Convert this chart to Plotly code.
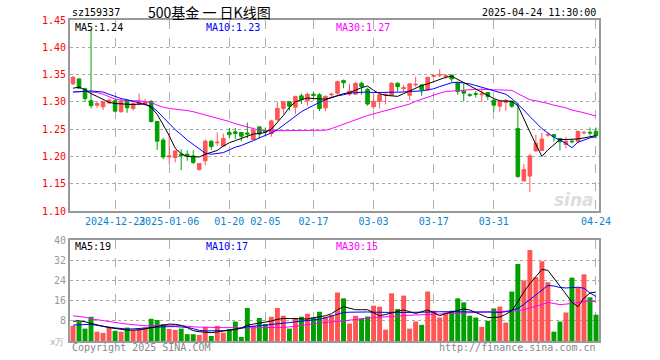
import plotly.graph_objects as go
from plotly.subplots import make_subplots

dates = [
    "2024-12-12", "2024-12-13", "2024-12-16", "2024-12-17", "2024-12-18", "2024-12-19", "2024-12-20",
    "2024-12-23", "2024-12-24", "2024-12-25", "2024-12-26", "2024-12-27", "2024-12-30", "2024-12-31",
    "2025-01-02", "2025-01-03", "2025-01-06", "2025-01-07", "2025-01-08", "2025-01-09", "2025-01-10",
    "2025-01-13", "2025-01-14", "2025-01-15", "2025-01-16", "2025-01-17", "2025-01-20", "2025-01-21",
    "2025-01-22", "2025-01-23", "2025-01-24", "2025-01-27",
    "2025-02-05", "2025-02-06", "2025-02-07", "2025-02-10", "2025-02-11", "2025-02-12", "2025-02-13",
    "2025-02-14", "2025-02-17", "2025-02-18", "2025-02-19", "2025-02-20", "2025-02-21", "2025-02-24",
    "2025-02-25", "2025-02-26", "2025-02-27", "2025-02-28",
    "2025-03-03", "2025-03-04", "2025-03-05", "2025-03-06", "2025-03-07", "2025-03-10", "2025-03-11",
    "2025-03-12", "2025-03-13", "2025-03-14", "2025-03-17", "2025-03-18", "2025-03-19", "2025-03-20",
    "2025-03-21", "2025-03-24", "2025-03-25", "2025-03-26", "2025-03-27", "2025-03-28", "2025-03-31",
    "2025-04-01", "2025-04-02", "2025-04-03", "2025-04-07", "2025-04-08", "2025-04-09", "2025-04-10",
    "2025-04-11", "2025-04-14", "2025-04-15", "2025-04-16", "2025-04-17", "2025-04-18", "2025-04-21",
    "2025-04-22", "2025-04-23", "2025-04-24",
]

open_ = [1.333, 1.342, 1.324, 1.302, 1.294, 1.291, 1.298, 1.302, 1.282, 1.301,
         1.288, 1.295, 1.296, 1.301, 1.264, 1.230, 1.199, 1.198, 1.204, 1.204,
         1.201, 1.176, 1.192, 1.228, 1.225, 1.219, 1.244, 1.245, 1.244, 1.243,
         1.231, 1.254, 1.247, 1.242, 1.267, 1.288, 1.300, 1.290, 1.311, 1.302,
         1.314, 1.313, 1.289, 1.313, 1.316, 1.339, 1.314, 1.314, 1.334, 1.323,
         1.291, 1.301, 1.312, 1.312, 1.334, 1.324, 1.312, 1.331, 1.331, 1.322,
         1.347, 1.349, 1.347, 1.349, 1.335, 1.320, 1.313, 1.315, 1.313, 1.317,
         1.303, 1.292, 1.299, 1.301, 1.251, 1.155, 1.164, 1.210, 1.211, 1.239,
         1.240, 1.233, 1.222, 1.228, 1.227, 1.243, 1.244, 1.246]
high = [1.347, 1.343, 1.326, 1.434, 1.301, 1.302, 1.306, 1.304, 1.305, 1.302,
        1.299, 1.315, 1.306, 1.303, 1.265, 1.234, 1.243, 1.212, 1.213, 1.211,
        1.211, 1.188, 1.231, 1.229, 1.244, 1.242, 1.252, 1.252, 1.245, 1.262,
        1.253, 1.256, 1.253, 1.267, 1.300, 1.302, 1.301, 1.311, 1.315, 1.317,
        1.319, 1.316, 1.312, 1.317, 1.339, 1.341, 1.333, 1.336, 1.337, 1.326,
        1.314, 1.314, 1.315, 1.336, 1.336, 1.331, 1.334, 1.346, 1.332, 1.346,
        1.351, 1.360, 1.351, 1.350, 1.336, 1.333, 1.316, 1.320, 1.325, 1.318,
        1.304, 1.304, 1.305, 1.302, 1.299, 1.186, 1.205, 1.240, 1.244, 1.244,
        1.241, 1.234, 1.236, 1.232, 1.247, 1.247, 1.253, 1.253]
low = [1.331, 1.324, 1.300, 1.288, 1.289, 1.285, 1.296, 1.281, 1.280, 1.280,
       1.284, 1.294, 1.293, 1.262, 1.212, 1.195, 1.186, 1.189, 1.175, 1.192,
       1.186, 1.174, 1.184, 1.212, 1.219, 1.218, 1.233, 1.232, 1.228, 1.233,
       1.230, 1.233, 1.238, 1.236, 1.266, 1.278, 1.284, 1.278, 1.296, 1.293,
       1.306, 1.283, 1.283, 1.309, 1.313, 1.325, 1.311, 1.313, 1.313, 1.293,
       1.287, 1.288, 1.295, 1.311, 1.319, 1.318, 1.303, 1.328, 1.311, 1.320,
       1.345, 1.345, 1.342, 1.336, 1.313, 1.301, 1.309, 1.308, 1.300, 1.303,
       1.282, 1.282, 1.283, 1.289, 1.161, 1.155, 1.135, 1.209, 1.210, 1.236,
       1.227, 1.211, 1.215, 1.224, 1.226, 1.240, 1.238, 1.233]
close = [1.345, 1.325, 1.306, 1.293, 1.297, 1.300, 1.303, 1.283, 1.301, 1.289,
         1.297, 1.301, 1.300, 1.264, 1.228, 1.199, 1.201, 1.210, 1.201, 1.201,
         1.189, 1.187, 1.228, 1.218, 1.226, 1.233, 1.240, 1.242, 1.237, 1.241,
         1.248, 1.241, 1.245, 1.265, 1.288, 1.300, 1.292, 1.310, 1.304, 1.314,
         1.312, 1.288, 1.310, 1.314, 1.337, 1.335, 1.320, 1.334, 1.328, 1.296,
         1.301, 1.313, 1.314, 1.334, 1.328, 1.326, 1.333, 1.332, 1.322, 1.345,
         1.348, 1.350, 1.348, 1.342, 1.319, 1.316, 1.312, 1.314, 1.315, 1.310,
         1.294, 1.301, 1.303, 1.292, 1.163, 1.176, 1.201, 1.224, 1.232, 1.240,
         1.236, 1.227, 1.228, 1.227, 1.246, 1.244, 1.243, 1.238]

ma5 = [1.325, 1.327, 1.322, 1.315, 1.310, 1.304, 1.299, 1.297, 1.296, 1.295,
       1.295, 1.296, 1.296, 1.290, 1.277, 1.258, 1.238, 1.215, 1.205, 1.200,
       1.199, 1.199, 1.204, 1.207, 1.211, 1.219, 1.225, 1.229, 1.233, 1.238,
       1.241, 1.242, 1.244, 1.250, 1.262, 1.275, 1.290, 1.300, 1.304, 1.307,
       1.306, 1.305, 1.305, 1.308, 1.312, 1.315, 1.317, 1.322, 1.326, 1.329,
       1.321, 1.315, 1.312, 1.311, 1.310, 1.315, 1.320, 1.326, 1.330, 1.333,
       1.337, 1.341, 1.345, 1.347, 1.341, 1.335, 1.329, 1.323, 1.317, 1.312,
       1.306, 1.302, 1.301, 1.301, 1.293, 1.268, 1.245, 1.222, 1.200, 1.212,
       1.222, 1.231, 1.231, 1.231, 1.232, 1.234, 1.236, 1.238]
ma10 = [1.318, 1.319, 1.320, 1.320, 1.319, 1.318, 1.314, 1.310, 1.306, 1.304,
        1.301, 1.299, 1.296, 1.292, 1.283, 1.272, 1.261, 1.249, 1.240, 1.230,
        1.222, 1.214, 1.206, 1.204, 1.205, 1.207, 1.212, 1.217, 1.220, 1.224,
        1.229, 1.234, 1.238, 1.243, 1.249, 1.257, 1.266, 1.274, 1.282, 1.288,
        1.294, 1.299, 1.304, 1.308, 1.311, 1.313, 1.316, 1.317, 1.318, 1.318,
        1.317, 1.317, 1.317, 1.317, 1.317, 1.318, 1.319, 1.319, 1.320, 1.322,
        1.324, 1.328, 1.332, 1.335, 1.336, 1.335, 1.333, 1.330, 1.327, 1.324,
        1.321, 1.318, 1.314, 1.306, 1.296, 1.285, 1.273, 1.262, 1.251, 1.243,
        1.235, 1.230, 1.224, 1.216, 1.226, 1.230, 1.234, 1.236]
ma30 = [1.318, 1.319, 1.319, 1.318, 1.317, 1.314, 1.309, 1.305, 1.303, 1.302,
        1.302, 1.302, 1.301, 1.299, 1.294, 1.290, 1.288, 1.287, 1.286, 1.284,
        1.282, 1.279, 1.276, 1.274, 1.271, 1.268, 1.264, 1.260, 1.257, 1.254,
        1.250, 1.248, 1.247, 1.247, 1.247, 1.247, 1.248, 1.248, 1.248, 1.248,
        1.248, 1.248, 1.248, 1.251, 1.255, 1.259, 1.264, 1.268, 1.272, 1.275,
        1.278, 1.281, 1.284, 1.286, 1.289, 1.292, 1.296, 1.301, 1.305, 1.309,
        1.313, 1.316, 1.319, 1.320, 1.321, 1.322, 1.322, 1.323, 1.323, 1.322,
        1.322, 1.322, 1.322, 1.321, 1.315, 1.309, 1.304, 1.302, 1.300, 1.297,
        1.294, 1.292, 1.289, 1.285, 1.283, 1.280, 1.277, 1.274]

volume = [6.0, 7.7, 4.9, 9.6, 3.7, 3.2, 5.3, 4.0, 3.7, 5.3,
          4.3, 4.9, 5.3, 8.8, 8.3, 6.7, 4.8, 4.4, 4.9, 2.7,
          2.7, 2.4, 5.6, 2.0, 6.0, 3.3, 4.7, 7.7, 1.6, 13.1,
          6.0, 9.1, 6.7, 9.6, 13.1, 10.0, 4.9, 9.1, 9.6, 10.8,
          9.3, 11.6, 9.6, 10.3, 19.2, 16.9, 6.9, 10.0, 8.9, 9.7,
          14.0, 13.6, 4.5, 18.9, 12.7, 18.0, 4.9, 7.7, 6.4, 19.6,
          12.0, 9.3, 11.3, 12.0, 16.9, 15.3, 10.0, 9.3, 5.6, 8.0,
          12.9, 13.6, 7.3, 19.6, 30.5, 24.0, 36.0, 25.3, 31.6, 23.3,
          3.7, 7.7, 11.3, 25.1, 21.1, 26.4, 17.3, 10.4]
vma5 = [7.8, 8.0, 7.6, 6.9, 6.3, 5.8, 5.3, 4.9, 4.4, 4.3,
        4.3, 4.4, 4.8, 5.3, 5.9, 6.5, 6.7, 6.6, 6.2, 5.3,
        4.1, 3.7, 3.5, 3.3, 3.6, 3.9, 4.2, 4.6, 5.2, 6.2,
        6.7, 7.1, 7.3, 7.9, 8.6, 8.9, 8.9, 8.8, 8.7, 8.7,
        9.2, 9.6, 10.0, 10.8, 12.4, 13.6, 13.0, 12.4, 12.4, 12.4,
        11.2, 10.0, 10.5, 11.1, 11.7, 12.3, 11.6, 10.9, 11.6, 12.3,
        11.2, 10.0, 10.9, 11.6, 12.2, 12.7, 12.3, 11.3, 10.3, 9.3,
        9.3, 9.5, 10.6, 12.0, 15.5, 19.5, 22.7, 25.7, 28.3, 28.0,
        25.0, 22.0, 18.6, 15.3, 13.6, 17.0, 19.0, 19.4]
vma10 = [6.3, 6.4, 6.6, 6.6, 6.2, 5.7, 5.5, 5.2, 4.9, 4.7,
         4.8, 4.9, 5.1, 5.3, 5.5, 5.7, 5.7, 5.7, 5.6, 5.4,
         4.9, 4.2, 4.0, 4.0, 4.0, 4.1, 4.3, 4.6, 5.0, 5.6,
         6.0, 6.1, 6.3, 6.5, 6.8, 7.1, 7.3, 7.6, 7.9, 8.1,
         8.3, 8.6, 9.2, 9.8, 10.7, 11.3, 11.4, 11.5, 11.6, 11.5,
         11.4, 11.3, 11.3, 11.3, 11.3, 11.3, 11.3, 11.3, 11.3, 11.4,
         11.5, 11.6, 11.6, 11.7, 11.7, 11.7, 11.7, 11.6, 11.6, 11.5,
         11.4, 11.3, 11.6, 12.2, 12.9, 14.5, 16.3, 18.1, 20.0, 22.0,
         21.8, 21.2, 21.0, 21.1, 21.3, 20.9, 19.0, 17.6]
vma30 = [10.0, 9.8, 9.4, 8.8, 8.4, 8.0, 7.6, 7.3, 7.0, 6.7,
         6.5, 6.1, 6.0, 6.1, 6.2, 6.3, 6.3, 6.3, 6.1, 5.8,
         5.6, 5.5, 5.4, 5.3, 5.3, 5.3, 5.3, 5.2, 5.1, 5.1,
         5.2, 5.3, 5.3, 5.3, 5.3, 5.4, 5.6, 5.8, 6.1, 6.5,
         6.8, 7.0, 7.3, 7.6, 7.7, 7.9, 8.2, 8.5, 8.8, 9.1,
         9.3, 9.5, 9.7, 9.9, 10.0, 10.1, 10.2, 10.3, 10.4, 10.5,
         10.6, 10.7, 10.8, 10.9, 11.0, 11.1, 11.2, 11.3, 11.4, 11.5,
         11.5, 11.6, 11.7, 11.8, 12.0, 12.5, 13.1, 13.6, 14.4, 15.3,
         14.9, 14.4, 14.6, 15.0, 15.3, 15.6, 15.8, 15.6]

price_ma_labels = ["MA5:1.24", "MA10:1.23", "MA30:1.27"]
vol_ma_labels = ["MA5:19", "MA10:17", "MA30:15"]

tick_dates = ["2024-12-23", "2025-01-06", "2025-01-20", "2025-02-05", "2025-02-17",
              "2025-03-03", "2025-03-17", "2025-03-31", "2025-04-24"]
tick_labels = ["2024-12-23", "2025-01-06", "01-20", "02-05", "02-17",
               "03-03", "03-17", "03-31", "04-24"]
price_ticks = [1.10, 1.15, 1.20, 1.25, 1.30, 1.35, 1.40, 1.45]
vol_ticks = [8, 16, 24, 32, 40]

RED = "#ff5555"
GREEN = "#00a000"
MONO = "DejaVu Sans Mono"
FS = 10

W, H = 660, 360
ML, MR, MT, MB = 70, 61, 20, 19
PW, PH = W - ML - MR, H - MT - MB


def px(x):
    return (x - ML) / PW


def py(y):
    return (H - MB - y) / PH


fig = make_subplots(rows=2, cols=1, shared_xaxes=True, vertical_spacing=0.0)

fig.add_trace(go.Candlestick(
    x=dates, open=open_, high=high, low=low, close=close,
    increasing=dict(line=dict(color=RED, width=1), fillcolor=RED),
    decreasing=dict(line=dict(color=GREEN, width=1), fillcolor=GREEN),
    whiskerwidth=0, showlegend=False, hoverinfo="skip"), row=1, col=1)

for vals, col in [(ma30, "#ff00ff"), (ma10, "#0000ff"), (ma5, "#000000")]:
    fig.add_trace(go.Scatter(x=dates, y=vals, mode="lines",
                             line=dict(color=col, width=1), showlegend=False,
                             hoverinfo="skip"), row=1, col=1)

bar_colors = [RED if c >= o else GREEN for o, c in zip(open_, close)]
fig.add_trace(go.Bar(x=dates, y=volume, marker=dict(color=bar_colors, line=dict(width=0)),
                     showlegend=False, hoverinfo="skip"), row=2, col=1)
for vals, col in [(vma30, "#ff00ff"), (vma10, "#0000ff"), (vma5, "#000000")]:
    fig.add_trace(go.Scatter(x=dates, y=vals, mode="lines",
                             line=dict(color=col, width=1), showlegend=False,
                             hoverinfo="skip"), row=2, col=1)

frame = dict(showline=True, mirror=True, linecolor="#999999", linewidth=2)

fig.update_xaxes(type="category", categoryorder="array", categoryarray=dates,
                 range=[-0.5, len(dates) - 0.5], tickmode="array",
                 tickvals=tick_dates, ticktext=tick_labels, tickangle=0,
                 showgrid=True, gridcolor="#b0b0b0", griddash="dash", gridwidth=1,
                 ticks="", zeroline=False, rangeslider=dict(visible=False),
                 tickfont=dict(family=MONO, size=FS, color="#0a84d0"), **frame)
fig.update_xaxes(showticklabels=True, row=1, col=1)
fig.update_xaxes(showticklabels=False, row=2, col=1)

fig.update_yaxes(range=[1.10, 1.45], tickmode="array", tickvals=price_ticks,
                 ticktext=[f"{v:.2f}" for v in price_ticks],
                 tickfont=dict(family=MONO, size=FS, color="#ff0000"),
                 showgrid=True, gridcolor="#aaaaaa", griddash="dot", gridwidth=1,
                 zeroline=False, ticks="", domain=[py(211), 1.0], row=1, col=1, **frame)
fig.update_yaxes(range=[0, 40], tickmode="array", tickvals=vol_ticks,
                 ticktext=[str(v) for v in vol_ticks],
                 tickfont=dict(family=MONO, size=FS, color="#999999"),
                 showgrid=True, gridcolor="#aaaaaa", griddash="dot", gridwidth=1,
                 zeroline=False, ticks="", domain=[0.0, py(240)], row=2, col=1, **frame)

ann = []


def text(x, y, s, color="#000000", size=FS, anchor="left", family=MONO):
    ann.append(dict(x=px(x), y=py(y), xref="paper", yref="paper", text=s,
                    showarrow=False, xanchor=anchor, yanchor="middle",
                    font=dict(family=family, size=size, color=color)))


text(70, 12, "sz159337")
text(209, 12, "500基金 一 日K线图", size=14, anchor="center", family="Noto Sans CJK SC")
text(598, 12, "2025-04-24 11:30:00", anchor="right")
text(73, 27, price_ma_labels[0])
text(204, 27, price_ma_labels[1], color="#0000ff")
text(334, 27, price_ma_labels[2], color="#ff00ff")
text(73, 246, vol_ma_labels[0])
text(204, 246, vol_ma_labels[1], color="#0000ff")
text(334, 246, vol_ma_labels[2], color="#ff00ff")
text(70, 347, "Copyright 2025 SINA.COM", color="#888888")
text(598, 347, "http://finance.sina.com.cn", color="#888888", anchor="right")
text(66, 342, "x万", color="#aaaaaa", size=9, anchor="right")
text(574, 200, "<b><i>sina</i></b>", color="#dddddd", size=17, anchor="center",
     family="DejaVu Sans")

fig.update_layout(width=W, height=H, margin=dict(l=ML, r=MR, t=MT, b=MB),
                  paper_bgcolor="white", plot_bgcolor="white",
                  bargap=0.18, boxgap=0.15, annotations=ann, showlegend=False)

fig.write_html("out.html", config={"displayModeBar": False, "staticPlot": True},
               post_script="document.body.style.margin='0px';document.body.style.padding='0px';")
